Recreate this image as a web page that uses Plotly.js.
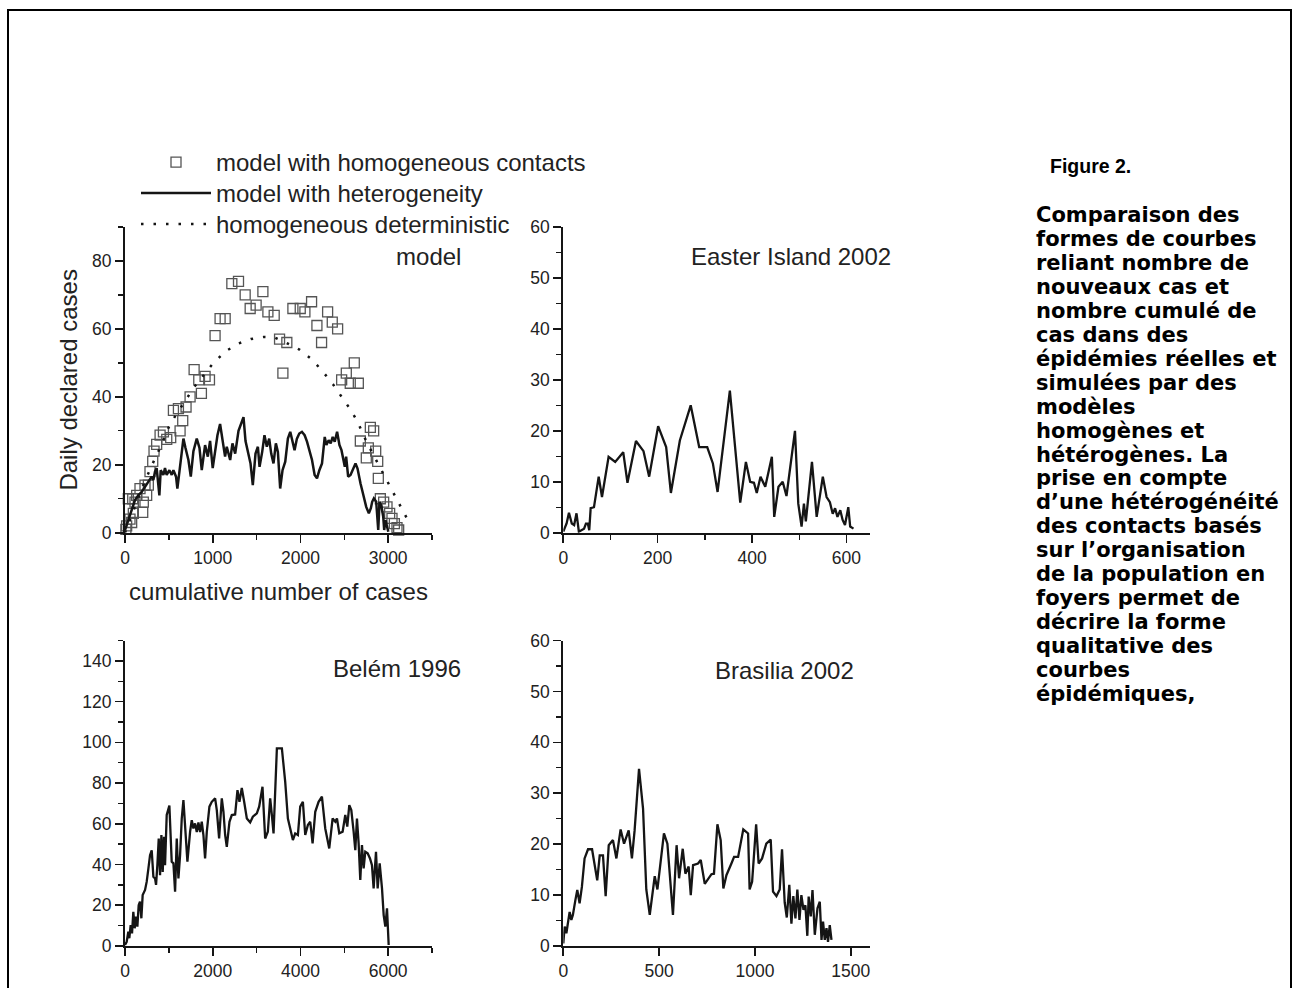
<!DOCTYPE html>
<html><head><meta charset="utf-8">
<script src="https://cdn.plot.ly/plotly-3.0.1.min.js"></script>
<style>html,body{margin:0;padding:0;background:#fff}#chart{width:1292px;height:988px}</style>
</head><body><div id="chart"></div>
<script>
// ---------- Panel 1 : models (x = cumulative number of cases, y = daily declared cases)
const homX = [10,19,38,57,76,88,95,114,133,171,202,209,228,247,266,285,316,331,361,400,438,476,521,552,609,628,658,696,742,788,841,871,913,963,1027,1084,1142,1218,1294,1370,1427,1495,1572,1629,1701,1762,1800,1845,1914,1998,2051,2127,2188,2241,2310,2363,2424,2470,2523,2568,2614,2660,2683,2751,2774,2797,2835,2858,2881,2888,2911,2949,2987,3017,3044,3071,3101,3120];
const homY = [1,2,10,4,3,10,5.7,9,11,13,6,9,14,11,14,18,21,24,26,28.7,29.7,27.5,28,36,36.5,30,33,37,40,48,45,41,46,45,58,63,63,73.3,74,70,66,67,71,65,64,57,47,56,66,66,65,68,61,56,65,62,60,45,47,44,50,44,27,22,25,31,30,24,21,16,10,9,7.6,5.7,4.2,2.7,1.5,0.8];
const hetX = [0,38,76,114,152,190,228,266,304,323,342,361,392,407,437,456,475,506,533,552,582,597,620,647,666,689,704,723,750,780,818,849,875,913,944,970,1000,1027,1054,1084,1111,1141,1160,1199,1225,1256,1294,1351,1374,1400,1431,1457,1488,1515,1534,1564,1590,1617,1644,1667,1693,1720,1743,1769,1796,1827,1857,1884,1910,1933,1960,1987,2017,2048,2075,2101,2132,2162,2189,2216,2246,2277,2296,2322,2345,2368,2391,2418,2445,2468,2483,2506,2521,2544,2571,2598,2628,2651,2666,2685,2704,2723,2750,2780,2803,2818,2837,2864,2879,2887,2902,2925,2944,2955,2970,2990,3002];
const hetY = [0.8,3.7,6.7,9.6,11,12,13.5,15,16.5,15.5,18,19,11,18.4,17,19,17,18.4,17,18.4,16.5,13,18.4,23,27.7,25,23,21.4,16.5,24,27.7,25,18.4,25.8,22.4,27,19,24.3,28.7,32,26.8,22.4,25.3,21.4,26.3,23.3,30,34,27,24.3,20.4,14,23.3,25.3,19.4,23.8,28.7,25.3,27.7,23.3,20.4,26.3,23.8,13,18.4,20.9,27.7,29.7,26.3,24.3,27.7,29.2,29.7,28.7,26.8,24.3,21.4,17,16,18.4,20.4,28.2,25.8,27.2,26.3,28.2,26.8,29.7,25.8,24.3,21.9,19.4,22.4,16.5,17,18.9,20.4,18.9,16.5,14.5,12.5,10.1,7.6,5.7,7.2,9.1,10.1,9.1,2.7,0.8,9.1,7.6,4.7,0.8,3.7,1.3,0.3];
const detX = [0,100,200,300,400,514,613,792,1008,1153,1294,1435,1579,1700,1830,1983,2131,2256,2371,2462,2561,2645,2750,2850,2930,3000,3071,3139,3208];
const detY = [0,7,13.5,19.5,25,32,36,43,50,53.5,55.7,57,57.6,57.5,56,54,51,47.4,43.7,40.3,36.6,33,27,22,18,14.5,11,7.6,4.5];

// ---------- Panel 2 : Easter Island 2002
const eX = [0,7,12,18,23,28,33,39,44,48,52,55,58,65,75,82,96,110,127,136,154,170,182,201,218,228,247,270,288,305,317,327,353,375,387,396,404,410,418,428,442,447,456,465,473,491,498,505,510,514,527,537,550,558,565,571,576,581,587,592,597,604,608,615];
const eY = [0.2,1.8,3.9,1.8,1.5,3.8,0.2,0.5,0.8,1.8,1.8,0.5,4.8,5,11,7,14.9,13.9,15.8,9.8,18,16,11,20.9,16.8,7.8,18.1,25,16.8,16.8,13.6,8,27.9,5.9,13.9,10,9.8,7.8,11,9,14.9,3.1,9,10,7.2,20,5.7,1.2,5.7,2.2,13.9,3.1,11,7,6,3.7,4.8,3.1,4.4,2.5,1.5,5,1.2,0.8];

// ---------- Panel 3 : Belém 1996
const bX = [0,38,76,99,129,160,190,221,251,282,312,342,373,403,457,495,533,571,609,647,685,708,738,769,799,830,860,890,913,951,1012,1065,1104,1142,1180,1218,1256,1294,1332,1370,1423,1484,1522,1560,1598,1636,1674,1712,1750,1788,1826,1865,1925,1979,2055,2093,2146,2207,2245,2283,2321,2382,2435,2511,2565,2610,2663,2717,2778,2854,2915,3006,3059,3135,3196,3257,3310,3349,3387,3463,3577,3653,3714,3767,3828,3881,3942,3995,4056,4110,4170,4224,4277,4338,4414,4490,4566,4657,4734,4795,4833,4886,4962,5023,5068,5114,5160,5213,5251,5289,5327,5365,5403,5441,5479,5533,5586,5631,5669,5723,5761,5807,5860,5898,5936,5974,5997,6012];
const bY = [0.5,2,7,3.8,10.3,6.2,16.8,8.7,14.4,9.5,20,21.8,13.6,25,27.5,31.6,38,44.6,47,34,33.2,30,39.7,52.8,34.8,54.5,36.3,53.6,39.7,64.3,68.9,41.4,40.6,26.7,52.8,33.2,44.6,62.6,71.6,61,41.4,56,61.8,57.7,60.2,56,60.7,56,61,54.5,43,56,68.4,70.8,72.5,66.7,52.8,72.5,65.9,54.5,48.7,61,64.3,64.6,76.5,70.8,77.6,70.8,62.6,60.7,63.5,65.1,68.4,78.2,52.8,56.1,72.5,64.3,55.3,97,97,80.6,62.6,57.7,52,55.3,54.5,68.4,70.8,54.5,59.4,61,50.4,65.9,70.8,73.3,57.7,47.9,62.6,61,62.6,55.3,56.1,64.3,58.6,69.2,66.7,56.1,47.1,62.6,50.4,32.4,49.6,38.1,46.3,45.5,43,39.7,28.3,46.3,28.3,40.6,28.3,15.2,9.5,18.5,9.5,0.5];

// ---------- Panel 4 : Brasilia 2002
const brX = [0,7,16,24,33,42,50,63,73,85,97,111,129,150,163,177,190,207,221,237,259,277,299,317,341,358,372,395,416,433,451,477,491,525,543,572,591,604,623,637,654,665,677,703,717,738,773,786,804,821,835,851,877,891,912,939,964,972,985,1006,1019,1037,1059,1082,1094,1112,1129,1141,1155,1166,1179,1190,1200,1211,1221,1232,1242,1253,1263,1273,1280,1291,1300,1312,1326,1338,1347,1355,1364,1373,1381,1390,1399];
const brY = [0.5,3.8,2.5,4.8,6.7,5.1,6.1,9,11,8.4,11.6,17.2,19,19,15.6,12.9,17.8,17.8,9.8,19.8,20.8,17.2,22.9,20.1,22.7,17.2,22.7,34.8,27,11.1,6.1,13.7,11.1,22.1,20.1,6.1,19.8,13.3,19.1,14.2,15.6,10,15.9,16.2,16.9,12.2,14.1,14.2,23.9,20.8,11.3,13.9,16.2,17.5,17.5,22.9,22.1,11.1,12.6,23.9,16.2,17.2,20.1,20.9,10.7,9.8,11.1,19,8.5,5.6,12,4.4,9.8,5.4,11.1,5.1,10,7.1,8,2,9.7,5.8,11,2.2,7.4,8.7,1.2,4.8,1.2,3.5,0.8,4.1,1.2];

// ---------- Text
const legendNames = ['model with homogeneous contacts','model with heterogeneity','homogeneous deterministic<br>' + '\u00A0'.repeat(27) + 'model'];
const panelLabels = ['Easter Island 2002','Belém 1996','Brasilia 2002'];
const xTitle = 'cumulative number of cases';
const yTitle = 'Daily declared cases';
const figTitle = 'Figure 2.';
const captionLines = ['Comparaison des','formes de courbes','reliant nombre de','nouveaux cas et','nombre cumulé de','cas dans des','épidémies réelles et','simulées par des','modèles','homogènes et','hétérogènes. La','prise en compte','d’une hétérogénéité','des contacts basés','sur l’organisation','de la population en','foyers permet de','décrire la forme','qualitative des','courbes','épidémiques,'];

// ---------- Layout helpers
const W = 1292, H = 988;
const px = v => v / W;
const py = v => 1 - v / H;
const FONT = 'Liberation Sans, Arial, Helvetica, sans-serif';
const CAPFONT = 'DejaVu Sans, Liberation Sans, Arial, sans-serif';
const INK = '#151515';

function mkAxis(domain, range, dtick, minorDtick, anchor, extra) {
  const a = {
    domain: domain, range: range, dtick: dtick, tick0: 0, anchor: anchor,
    showline: true, linecolor: INK, linewidth: 2,
    ticks: 'outside', ticklen: 8, tickwidth: 1.6, tickcolor: INK,
    showgrid: false, zeroline: false, fixedrange: true,
    tickfont: {family: FONT, size: 17.5, color: '#222'}
  };
  if (minorDtick) a.minor = {dtick: minorDtick, tick0: 0, ticks: 'outside', ticklen: 5, tickwidth: 1.4, tickcolor: INK, showgrid: false};
  return Object.assign(a, extra || {});
}

const lineStyle = {color: INK, width: 2.3};
const traces = [
  {x: homX, y: homY, xaxis: 'x', yaxis: 'y', type: 'scatter', mode: 'markers', name: legendNames[0], legend: 'legend', cliponaxis: false,
   marker: {symbol: 'square-open', size: 10, color: '#555', line: {width: 1.3}}},
  {x: hetX, y: hetY, xaxis: 'x', yaxis: 'y', type: 'scatter', mode: 'lines', name: legendNames[1], legend: 'legend2', line: {color: INK, width: 2.5}},
  {x: detX, y: detY, xaxis: 'x', yaxis: 'y', type: 'scatter', mode: 'lines', name: legendNames[2], legend: 'legend3',
   line: {color: INK, width: 2.5, dash: '2.5px,10px'}},
  {x: eX, y: eY, xaxis: 'x2', yaxis: 'y2', type: 'scatter', mode: 'lines', showlegend: false, line: lineStyle},
  {x: bX, y: bY, xaxis: 'x3', yaxis: 'y3', type: 'scatter', mode: 'lines', showlegend: false, line: lineStyle},
  {x: brX, y: brY, xaxis: 'x4', yaxis: 'y4', type: 'scatter', mode: 'lines', showlegend: false, line: lineStyle}
];

const topDom = [py(532.7), py(227)];
const botDom = [py(946), py(640.5)];
const leftDom = [px(125), px(432)];
const rightDom = [px(563.3), px(870)];

const annotations = [
  {text: panelLabels[0], x: px(893), y: py(256), xanchor: 'right', yanchor: 'middle'},
  {text: panelLabels[1], x: px(463), y: py(668), xanchor: 'right', yanchor: 'middle'},
  {text: panelLabels[2], x: px(856), y: py(670), xanchor: 'right', yanchor: 'middle'}
].map(a => Object.assign(a, {xref: 'paper', yref: 'paper', showarrow: false, font: {family: FONT, size: 24, color: '#222'}}));

annotations.push({text: '<b>' + figTitle + '</b>', x: px(1048), y: py(166), xref: 'paper', yref: 'paper', xanchor: 'left', yanchor: 'middle', showarrow: false, font: {family: FONT, size: 19.5, color: '#000'}});
captionLines.forEach((t, i) => {
  annotations.push({text: '<b>' + t + '</b>', x: px(1034), y: py(215 + i * 23.95), xref: 'paper', yref: 'paper', xanchor: 'left', yanchor: 'middle', showarrow: false, font: {family: CAPFONT, size: 21, color: '#000'}});
});

const legBase = {x: px(136), xanchor: 'left', yanchor: 'top', bgcolor: 'rgba(0,0,0,0)', borderwidth: 0,
                 font: {family: FONT, size: 24, color: '#222'}, itemwidth: 70, valign: 'top'};

const layout = {
  width: W, height: H, margin: {l: 0, r: 0, t: 0, b: 0, pad: 0},
  paper_bgcolor: '#fff', plot_bgcolor: 'rgba(0,0,0,0)',
  font: {family: FONT, color: '#222'},
  showlegend: true,
  legend: Object.assign({}, legBase, {y: py(140)}),
  legend2: Object.assign({}, legBase, {y: py(171)}),
  legend3: Object.assign({}, legBase, {y: py(202)}),
  xaxis: mkAxis(leftDom, [0, 3500], 1000, 500, 'y', {title: {text: xTitle, font: {family: FONT, size: 24, color: '#222'}, standoff: 16}}),
  yaxis: mkAxis(topDom, [0, 90], 20, 10, 'x', {title: {text: yTitle, font: {family: FONT, size: 24, color: '#222'}, standoff: 8}}),
  xaxis2: mkAxis(rightDom, [0, 650], 200, 100, 'y2'),
  yaxis2: mkAxis(topDom, [0, 60], 10, 5, 'x2'),
  xaxis3: mkAxis(leftDom, [0, 7000], 2000, 1000, 'y3'),
  yaxis3: mkAxis(botDom, [0, 150], 20, 10, 'x3'),
  xaxis4: mkAxis(rightDom, [0, 1600], 500, null, 'y4'),
  yaxis4: mkAxis(botDom, [0, 60], 10, 5, 'x4'),
  annotations: annotations,
  shapes: [{type: 'rect', xref: 'paper', yref: 'paper', x0: px(8), x1: px(1291), y0: py(1000), y1: py(10), line: {color: '#000', width: 2}, fillcolor: 'rgba(0,0,0,0)'}]
};

Plotly.newPlot('chart', traces, layout, {staticPlot: true, displayModeBar: false});
</script>
</body></html>
